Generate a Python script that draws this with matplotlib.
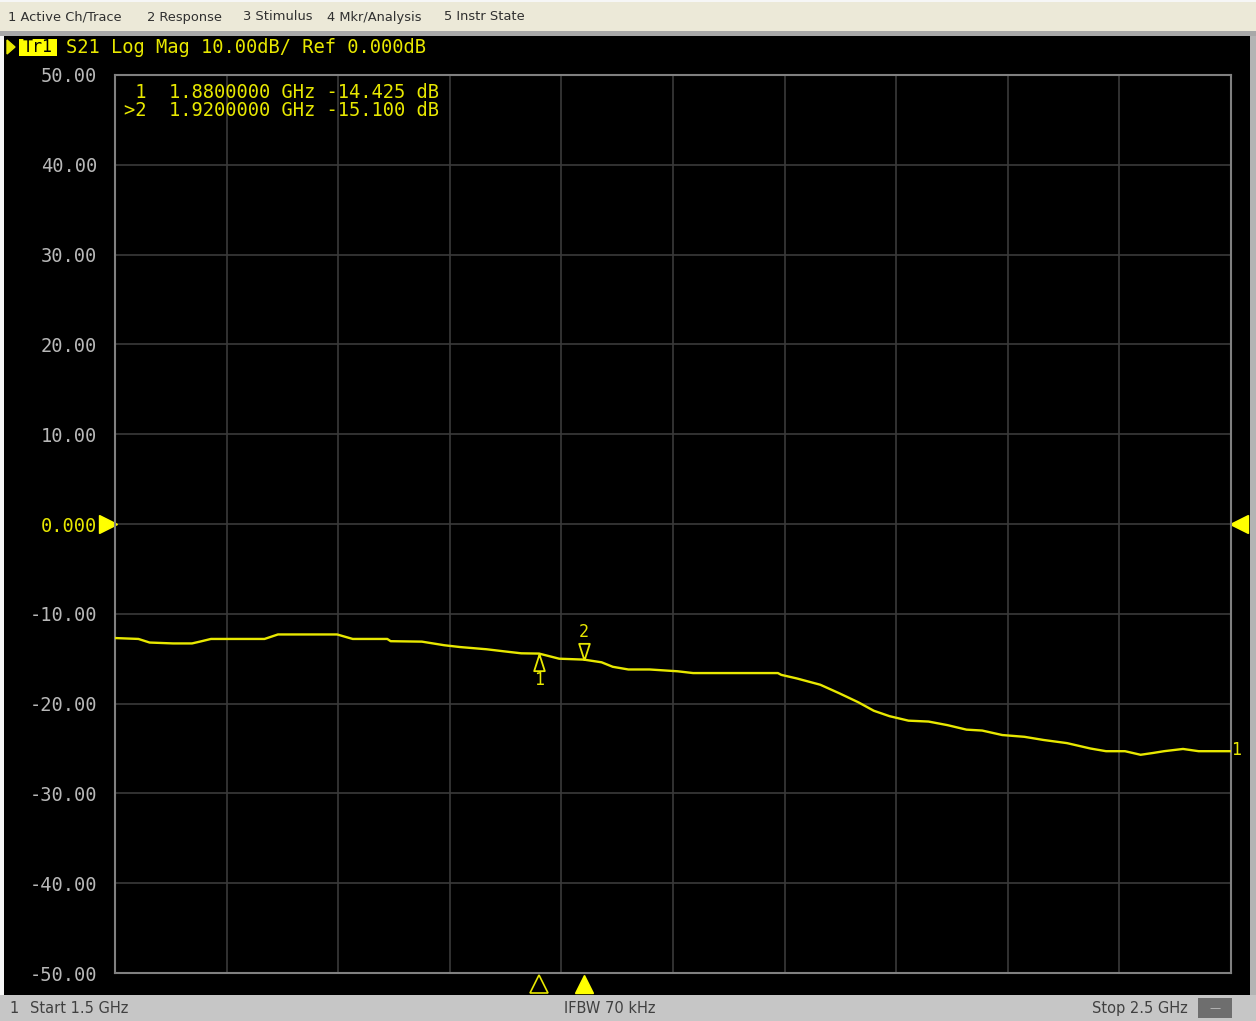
import matplotlib
matplotlib.use("Agg")
import matplotlib.pyplot as plt
from matplotlib.patches import Rectangle, Polygon
from matplotlib.transforms import blended_transform_factory

# S21 trace
freq_ghz = [1.500, 1.521, 1.531, 1.552, 1.569, 1.576, 1.586, 1.634, 1.646, 1.682,
            1.699, 1.713, 1.744, 1.747, 1.775, 1.795, 1.809, 1.833, 1.850, 1.864,
            1.880, 1.898, 1.920, 1.936, 1.946, 1.960, 1.979, 2.004, 2.018, 2.094,
            2.097, 2.111, 2.132, 2.149, 2.166, 2.180, 2.194, 2.211, 2.229, 2.246,
            2.263, 2.277, 2.295, 2.315, 2.332, 2.353, 2.374, 2.388, 2.405, 2.419,
            2.430, 2.440, 2.457, 2.471, 2.500]
s21_db = [-12.7, -12.8, -13.2, -13.3, -13.3, -13.1, -12.8, -12.8, -12.3, -12.3,
          -12.3, -12.8, -12.8, -13.05, -13.1, -13.5, -13.7, -13.95, -14.2, -14.4,
          -14.43, -15.0, -15.1, -15.4, -15.9, -16.2, -16.2, -16.4, -16.6, -16.6,
          -16.8, -17.2, -17.9, -18.85, -19.85, -20.8, -21.4, -21.9, -22.0, -22.4,
          -22.9, -23.0, -23.5, -23.7, -24.05, -24.4, -25.0, -25.3, -25.3, -25.7,
          -25.5, -25.3, -25.05, -25.3, -25.3]

marker_freq = [1.88, 1.92]
marker_db = [-14.425, -15.100]
marker_names = ["1", "2"]

y_ticks = [50, 40, 30, 20, 10, 0, -10, -20, -30, -40, -50]
y_labels = ["50.00", "40.00", "30.00", "20.00", "10.00", "0.000",
            "-10.00", "-20.00", "-30.00", "-40.00", "-50.00"]

menu_items = ["1 Active Ch/Trace", "2 Response", "3 Stimulus", "4 Mkr/Analysis", "5 Instr State"]
menu_x = [8, 147, 243, 327, 444]

YEL = "#e8e800"
GRID = "#3a3a3a"
MONO = "DejaVu Sans Mono"
FS = 13.5

W, H = 1256, 1021


def fx(px):
    return px / W


def fy(py):
    return 1 - py / H


def box(x0, y0, x1, y1, color, z=0):
    fig.add_artist(Rectangle((fx(x0), fy(y1)), fx(x1) - fx(x0), fy(y0) - fy(y1),
                             transform=fig.transFigure, facecolor=color,
                             edgecolor="none", zorder=z))


fig = plt.figure(figsize=(W / 100, H / 100), dpi=100, facecolor="#f6f6f6")

# window chrome
box(0, 2, W, 31, "#ece9d8")
box(0, 31, W, 36, "#a8a8a8")
box(4, 36, 1250, 995, "black")
box(1250, 36, W, 995, "#b4b4b4")
box(0, 995, W, H, "#c6c6c6")
box(1198, 998, 1232, 1018, "#6e6e6e")

for name, x in zip(menu_items, menu_x):
    fig.text(fx(x), fy(17), name, fontsize=9.4, color="#303030", va="center", ha="left")

fig.text(fx(9), fy(1008), "1", fontsize=10.5, color="#404040", va="center")
fig.text(fx(30), fy(1008), "Start 1.5 GHz", fontsize=10.5, color="#404040", va="center")
fig.text(fx(610), fy(1008), "IFBW 70 kHz", fontsize=10.5, color="#404040", va="center", ha="center")
fig.text(fx(1188), fy(1008), "Stop 2.5 GHz", fontsize=10.5, color="#404040", va="center", ha="right")
fig.text(fx(1215), fy(1008), "\u2014", fontsize=8, color="#c0c0c0", va="center", ha="center")

# trace header
fig.add_artist(Polygon([[fx(7), fy(40)], [fx(7), fy(54)], [fx(15), fy(47)]],
                       closed=True, transform=fig.transFigure, color=YEL))
box(19, 39, 57, 56, "#ffff00", z=1)
fig.text(fx(38), fy(47.5), "Tr1", family=MONO, fontsize=12, color="black",
         va="center", ha="center", zorder=2)
fig.text(fx(66), fy(47.5), "S21 Log Mag 10.00dB/ Ref 0.000dB", family=MONO,
         fontsize=FS, color=YEL, va="center", ha="left")

# plot area
ax = fig.add_axes([fx(115), fy(973), fx(1231) - fx(115), fy(75) - fy(973)])
ax.set_facecolor("black")
ax.set_xlim(1.5, 2.5)
ax.set_ylim(-50, 50)
ax.set_xticks([1.5 + 0.1 * i for i in range(11)])
ax.set_yticks(y_ticks)
ax.set_yticklabels(y_labels, family=MONO, fontsize=FS)
for lab, v in zip(ax.get_yticklabels(), y_ticks):
    lab.set_color(YEL if v == 0 else "#b8b8b8")
ax.tick_params(axis="y", length=0, pad=13)
ax.tick_params(axis="x", length=0, labelbottom=False)
ax.grid(True, color=GRID, linewidth=1.2)
for sp in ax.spines.values():
    sp.set_color("#808080")
    sp.set_linewidth(1.5)

ax.plot(freq_ghz, s21_db, color=YEL, linewidth=1.7, zorder=3)

# reference level arrows
tr = blended_transform_factory(ax.transAxes, ax.transData)
ax.plot([-0.0065], [0], marker=">", markersize=13, color="#ffff00", transform=tr, clip_on=False)
ax.plot([1.0075], [0], marker="<", markersize=13, color="#ffff00", transform=tr, clip_on=False)
ax.annotate("1", (1.0, s21_db[-1]), xycoords=tr, xytext=(0, 1), textcoords="offset points",
            family=MONO, fontsize=12, color=YEL, va="center", ha="left", annotation_clip=False)

# markers on trace
up_tri = [(0, 0), (-0.32, -1), (0.32, -1), (0, 0)]
down_tri = [(0, 0), (-0.32, 1), (0.32, 1), (0, 0)]
ax.plot([marker_freq[0]], [marker_db[0]], marker=up_tri, markersize=24, color=YEL,
        markerfacecolor="none", markeredgewidth=1.3, zorder=4)
ax.plot([marker_freq[1]], [marker_db[1]], marker=down_tri, markersize=24, color=YEL,
        markerfacecolor="none", markeredgewidth=1.3, zorder=4)
ax.annotate(marker_names[0], (marker_freq[0], marker_db[0]), xytext=(0, -19),
            textcoords="offset points", family=MONO, fontsize=12, color=YEL,
            ha="center", va="center")
ax.annotate(marker_names[1], (marker_freq[1], marker_db[1]), xytext=(0, 20),
            textcoords="offset points", family=MONO, fontsize=12, color=YEL,
            ha="center", va="center")

# marker position arrows under the grid
tb = blended_transform_factory(ax.transData, ax.transAxes)
ax.plot([marker_freq[0]], [-0.012], marker="^", markersize=13, color=YEL,
        markerfacecolor="none", markeredgewidth=1.2, transform=tb, clip_on=False)
ax.plot([marker_freq[1]], [-0.012], marker="^", markersize=13, color="#ffff00",
        transform=tb, clip_on=False)

# marker readout
rows = [" 1  {:.7f} GHz {:.3f} dB", ">2  {:.7f} GHz {:.3f} dB"]
for i, (fmt, f, v) in enumerate(zip(rows, marker_freq, marker_db)):
    fig.text(fx(124), fy(92 + 18 * i), fmt.format(f, v), family=MONO, fontsize=FS,
             color=YEL, va="center", ha="left")

fig.savefig("out.png", dpi=100, facecolor=fig.get_facecolor())
